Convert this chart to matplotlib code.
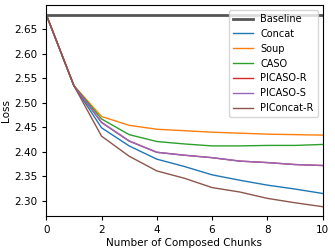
import matplotlib
matplotlib.use("Agg")
import matplotlib.pyplot as plt

chunks = list(range(11))
baseline = 2.68
concat = [2.68, 2.535, 2.449, 2.412, 2.385, 2.370, 2.353, 2.342, 2.332, 2.324, 2.315]
soup = [2.68, 2.535, 2.472, 2.454, 2.446, 2.443, 2.440, 2.438, 2.436, 2.435, 2.434]
caso = [2.68, 2.535, 2.467, 2.435, 2.421, 2.416, 2.412, 2.412, 2.413, 2.413, 2.415]
picaso_r = [2.68, 2.535, 2.460, 2.422, 2.399, 2.393, 2.388, 2.381, 2.378, 2.374, 2.372]
picaso_s = [2.68, 2.535, 2.460, 2.422, 2.399, 2.393, 2.388, 2.381, 2.378, 2.374, 2.372]
piconcat_r = [2.68, 2.535, 2.432, 2.391, 2.361, 2.346, 2.327, 2.318, 2.305, 2.296, 2.288]

fig = plt.figure(figsize=(3.35, 2.5), dpi=100)
ax = fig.add_axes([0.138, 0.136, 0.825, 0.843])

ax.axhline(baseline, color="#555555", linewidth=2, label="Baseline")
ax.plot(chunks, concat, color="tab:blue", linewidth=1, label="Concat")
ax.plot(chunks, soup, color="tab:orange", linewidth=1, label="Soup")
ax.plot(chunks, caso, color="tab:green", linewidth=1, label="CASO")
ax.plot(chunks, picaso_r, color="tab:red", linewidth=1, label="PICASO-R")
ax.plot(chunks, picaso_s, color="tab:purple", linewidth=1, label="PICASO-S")
ax.plot(chunks, piconcat_r, color="tab:brown", linewidth=1, label="PIConcat-R")

ax.set_xlim(0, 10)
ax.set_ylim(2.269, 2.699)
ax.set_xticks([0, 2, 4, 6, 8, 10])
ax.set_yticks([2.30, 2.35, 2.40, 2.45, 2.50, 2.55, 2.60, 2.65])
ax.tick_params(labelsize=7.5, length=3)
ax.set_xlabel("Number of Composed Chunks", fontsize=7.5, labelpad=2)
ax.set_ylabel("Loss", fontsize=7.5, labelpad=2)
ax.legend(loc="upper right", fontsize=7)

fig.savefig("out.png", dpi=100)
